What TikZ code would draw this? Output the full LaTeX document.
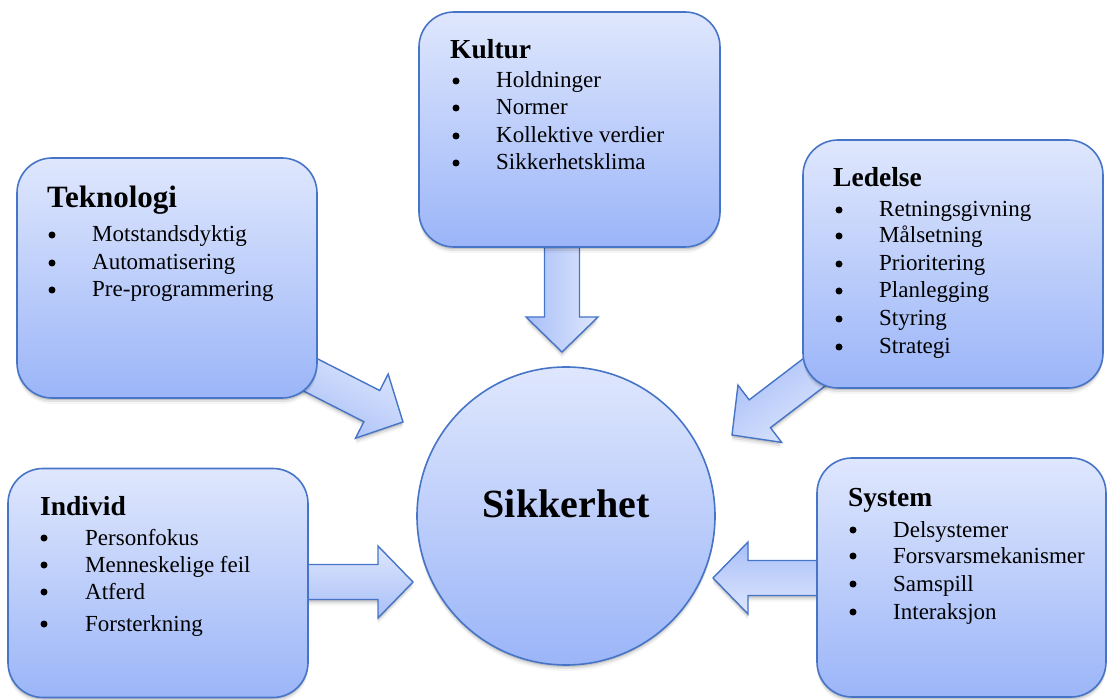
\documentclass[tikz,border=0pt]{standalone}
\usepackage{fontspec}
\setmainfont{Liberation Serif}
\usetikzlibrary{calc,shadows}

\definecolor{boxtop}{RGB}{223,231,253}
\definecolor{boxbot}{RGB}{155,181,248}
\definecolor{arrowlight}{RGB}{222,231,253}
\definecolor{arrowdark}{RGB}{168,190,247}
\definecolor{edgeblue}{RGB}{70,116,198}

% block arrow: #1 name, #2 tail, #3 tip, #4 shading angle
\newcommand{\blockarrow}[4]{%
  \coordinate (#1-b) at ($(#3)!35pt!(#2)$);
  \path[fatarrow, shading angle=#4]
    ($(#2)!17.5pt!90:(#3)$) -- ($(#1-b)!17.5pt!-90:(#2)$) -- ($(#1-b)!36pt!-90:(#2)$)
    -- (#3) -- ($(#1-b)!36pt!90:(#2)$) -- ($(#1-b)!17.5pt!90:(#2)$)
    -- ($(#2)!17.5pt!-90:(#3)$) -- cycle;
}

\begin{document}
\begin{tikzpicture}[x=1pt,y=-1pt,
  softshadow/.style={
    drop shadow={shadow xshift=0pt,shadow yshift=-2pt,opacity=.13,fill=black},
    drop shadow={shadow xshift=0pt,shadow yshift=-4pt,opacity=.08,fill=black},
    drop shadow={shadow xshift=0pt,shadow yshift=-6pt,opacity=.04,fill=black}},
  panel/.style={draw=edgeblue, line width=1.6pt, rounded corners=35pt,
    top color=boxtop, bottom color=boxbot, softshadow, inner sep=0pt},
  hub/.style={circle, draw=edgeblue, line width=1.6pt,
    top color=boxtop, bottom color=boxbot, softshadow, inner sep=0pt},
  fatarrow/.style={draw=edgeblue, line width=1.4pt, line join=miter,
    top color=arrowlight, bottom color=arrowdark, softshadow},
  head/.style={font=\bfseries\fontsize{27.5}{31}\selectfont, anchor=base west, inner sep=0pt},
  bighead/.style={font=\bfseries\fontsize{31}{35}\selectfont, anchor=base west, inner sep=0pt},
  entry/.style={font=\fontsize{23}{27}\selectfont, anchor=base west, inner sep=0pt},
  dot/.style={circle, fill=black, inner sep=0pt, minimum size=7pt, yshift=7pt},
]
\useasboundingbox (0,0) rectangle (1109,700);

% arrow tails (inside the panels) and tips (near the hub)
\coordinate (kulA) at (562,240);   \coordinate (kulT) at (562,352);
\coordinate (tekA) at (295,367);   \coordinate (tekT) at (403,422);
\coordinate (ledA) at (825,364);   \coordinate (ledT) at (732,435);
\coordinate (indA) at (300,582);   \coordinate (indT) at (413,582);
\coordinate (sysA) at (825,578);   \coordinate (sysT) at (713,578);

\blockarrow{kularr}{kulA}{kulT}{-90}
\blockarrow{tekarr}{tekA}{tekT}{-27}
\blockarrow{ledarr}{ledA}{ledT}{217}
\blockarrow{indarr}{indA}{indT}{0}
\blockarrow{sysarr}{sysA}{sysT}{180}

% panels
\node[panel, minimum width=300pt, minimum height=240pt] (tek) at (167,278) {};
\node[panel, minimum width=301pt, minimum height=235pt] (kul) at (569.5,129.5) {};
\node[panel, minimum width=300pt, minimum height=248pt] (led) at (953,264) {};
\node[panel, minimum width=300pt, minimum height=229pt] (ind) at (158,583) {};
\node[panel, minimum width=289pt, minimum height=239pt] (sys) at (961.5,577.5) {};

% central hub
\node[hub, minimum size=298pt] (core) at (566,516) {};
\node[font=\bfseries\fontsize{40}{44}\selectfont, anchor=base, inner sep=0pt] (coretxt) at (566,518) {Sikkerhet};

% Teknologi
\node[bighead] (tekh) at (47,208) {Teknologi};
\foreach \y/\t [count=\i] in {242/Motstandsdyktig, 270/Automatisering, 297/Pre-programmering} {
  \node[dot] (tekb\i) at (52,\y) {};
  \node[entry] (teki\i) at (92,\y) {\t};
}

% Kultur
\node[head] (kulh) at (450,59) {Kultur};
\foreach \y/\t [count=\i] in {88/Holdninger, 115/Normer, 143/Kollektive verdier, 170/Sikkerhetsklima} {
  \node[dot] (kulb\i) at (456,\y) {};
  \node[entry] (kuli\i) at (496,\y) {\t};
}

% Ledelse
\node[head] (ledh) at (833,187) {Ledelse};
\foreach \y/\t [count=\i] in {217/Retningsgivning, 243/Målsetning, 271/Prioritering, 298/Planlegging, 326/Styring, 354/Strategi} {
  \node[dot] (ledb\i) at (839,\y) {};
  \node[entry] (ledi\i) at (879,\y) {\t};
}

% Individ
\node[head] (indh) at (40,515) {Individ};
\foreach \y/\t [count=\i] in {545/Personfokus, 572/Menneskelige feil, 599/Atferd, 631/Forsterkning} {
  \node[dot] (indb\i) at (44,\y) {};
  \node[entry] (indi\i) at (85,\y) {\t};
}

% System
\node[head] (sysh) at (848,507) {System};
\foreach \y/\t [count=\i] in {537/Delsystemer, 563/Forsvarsmekanismer, 591/Samspill, 619/Interaksjon} {
  \node[dot] (sysb\i) at (853,\y) {};
  \node[entry] (sysi\i) at (893,\y) {\t};
}
\end{tikzpicture}
\end{document}
